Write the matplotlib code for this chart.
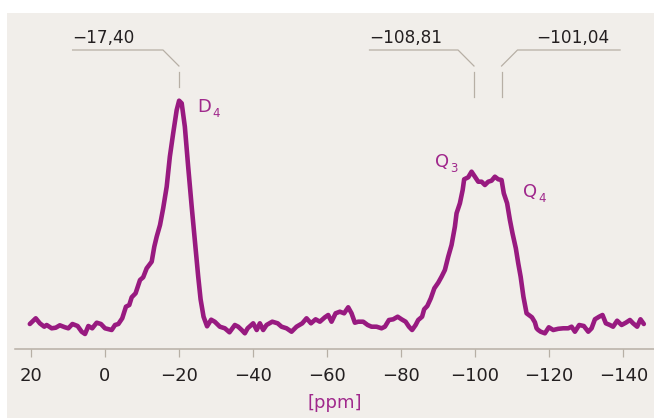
import matplotlib
matplotlib.use("Agg")
import matplotlib.pyplot as plt
from matplotlib.patches import Rectangle

# 29Si NMR spectrum (chemical shift in ppm, intensity in arbitrary units)
shift_ppm = [
    20.2, 18.6, 17.5, 16.3, 15.65, 14.3, 13.2, 12.1, 10.7, 9.8, 8.7, 7.3, 6.2, 5.3,
    4.4, 3.35, 2.15, 1.0, -0.1, -1.9, -2.8, -3.7, -4.75, -5.75, -6.65, -7.3, -8.35,
    -9.55, -10.4, -11.35, -12.7, -13.4, -14.05, -14.95, -15.8, -16.75, -17.6, -18.5,
    -19.45, -20.1, -20.8, -21.65, -22.55, -23.5, -24.35, -25.25, -25.9, -26.7,
    -27.65, -28.75, -29.75, -31.1, -32.45, -33.7, -35.15, -36.05, -37.0, -37.85,
    -38.6, -40.1, -41.05, -41.9, -42.8, -43.7, -45.25, -46.7, -47.75, -49.1, -50.45,
    -51.8, -53.35, -54.5, -55.7, -56.95, -58.1, -59.45, -60.35, -61.25, -62.35,
    -63.5, -64.65, -65.75, -66.65, -67.55, -68.45, -69.8, -71.0, -72.05, -73.4,
    -74.75, -75.65, -76.75, -77.9, -79.1, -80.15, -81.25, -82.15, -83.0, -83.95,
    -84.65, -85.7, -86.25, -87.1, -88.05, -89.0, -90.05, -90.95, -91.85, -92.75,
    -93.65, -94.55, -95.0, -95.9, -96.65, -97.05, -98.15, -99.05, -99.95, -100.85,
    -101.75, -102.65, -103.55, -104.45, -105.35, -106.25, -107.15, -107.75, -108.65,
    -109.4, -110.1, -111.0, -111.65, -112.3, -113.05, -113.9, -115.35, -116.15,
    -116.6, -117.05, -117.7, -118.85, -119.9, -121.1, -122.45, -123.8, -125.15,
    -126.05, -126.95, -128.1, -129.35, -130.55, -131.45, -132.35, -133.5, -134.4,
    -135.3, -136.4, -137.25, -138.35, -139.55, -140.7, -141.8, -142.65, -143.75,
    -144.65, -145.55,
]
intensity = [
    25.3, 31.0, 26.0, 22.6, 24.3, 21.0, 21.6, 24.0, 22.0, 21.0, 25.3, 23.3, 17.6, 15.3,
    23.3, 21.0, 26.6, 25.3, 21.0, 19.3, 24.3, 25.3, 31.0, 42.6, 44.3, 52.0, 56.0,
    69.3, 72.0, 81.0, 87.6, 102.6, 112.6, 124.3, 141.0, 162.6, 192.6, 216.0,
    239.3, 248.6, 246.0, 222.6, 182.6, 142.6, 109.3, 73.0, 50.0, 32.6,
    23.0, 29.6, 27.5, 22.6, 21.0, 17.0, 24.3, 22.6, 19.3, 16.0,
    21.0, 26.0, 19.3, 26.0, 19.3, 24.3, 27.6, 26.0, 22.6, 21.0, 17.6,
    22.6, 26.0, 31.0, 26.0, 30.0, 27.6, 32.0, 34.3, 27.6, 36.0,
    37.6, 36.0, 42.0, 36.0, 26.6, 27.6, 27.6, 24.3, 22.6, 22.6,
    21.0, 22.6, 29.3, 30.0, 32.6, 30.0, 27.6, 22.6, 19.3, 24.3,
    29.3, 32.6, 40.0, 43.3, 51.0, 61.0, 66.6, 72.6, 79.3, 92.6,
    104.3, 122.6, 136.0, 146.0, 159.3, 170.0, 172.0, 177.6, 172.6, 167.6,
    167.6, 164.3, 167.6, 168.6, 172.6, 170.0, 169.3, 156.0, 146.0,
    129.3, 116.0, 101.0, 86.0, 72.6, 52.6, 36.0, 32.0, 27.0,
    21.0, 19.3, 17.6, 16.0, 22.0, 19.3, 20.5, 21.0, 21.0,
    22.6, 17.6, 24.3, 23.3, 17.6, 21.0, 30.0, 32.6, 34.3,
    26.0, 24.3, 22.6, 28.6, 24.3, 26.6, 29.3, 26.0, 22.6,
    30.0, 25.3,
]

tick_values = [20, 0, -20, -40, -60, -80, -100, -120, -140]

# Peak shift annotations
mark_ppm = [-20.05, -99.7, -107.15]
mark_text = ["\u221217,40", "\u2212108,81", "\u2212101,04"]

# Site labels: (main letter, subscript, ppm, intensity)
site_main = ["D", "Q", "Q"]
site_sub = ["4", "3", "4"]
site_ppm = [-24.9, -89.15, -112.98]
site_int = [237.3, 182.0, 152.0]

LINE = "#981a80"
LABEL = "#a0288c"
GREY = "#b7afa5"
INK = "#231f20"
PANEL = "#f1eeea"

W, H = 654, 418
fig = plt.figure(figsize=(W / 100, H / 100), dpi=100)
fig.patch.set_facecolor("white")
fig.patches.append(Rectangle((7 / W, 0), 1, (H - 13) / H, transform=fig.transFigure,
                             facecolor=PANEL, edgecolor="none", zorder=-5))

ax = fig.add_axes([15 / W, (H - 349.3) / H, (W - 15) / W, (349.3 - 13) / H])
ax.set_facecolor("none")
ax.plot(shift_ppm, intensity, color=LINE, lw=3.3, solid_joinstyle="round",
        solid_capstyle="round", zorder=3)

ax.set_xlim(24.2, -148.3)
ax.set_ylim(0, 336.3)
for side in ("top", "left", "right"):
    ax.spines[side].set_visible(False)
ax.spines["bottom"].set_color(GREY)
ax.spines["bottom"].set_linewidth(1.1)
ax.set_yticks([])
ax.set_xticks(tick_values)
ax.set_xticklabels([f"{v}".replace("-", "\u2212") for v in tick_values])
ax.tick_params(axis="x", direction="out", length=5.5, width=0.9, color=GREY,
               labelsize=13, labelcolor=INK, pad=7.5)
ax.set_xlabel("[ppm]", color=LABEL, fontsize=13, labelpad=6)

# Leader lines with shift values
under_y, diag_y, tick_top = 299.3, 283.3, 277.3
tick_bottom = [262.0, 252.3, 252.3]
diag_dx = 4.3
under_len = [24.4, 23.9, 27.7]
text_side = [1, 1, -1]
text_inset = [0.0, 0.0, 2.9]
for m, txt, s, ln, tb, ins in zip(mark_ppm, mark_text, text_side, under_len,
                                   tick_bottom, text_inset):
    x_knee = m + s * diag_dx
    x_end = x_knee + s * ln
    kw = dict(color=GREY, lw=0.9, clip_on=False, zorder=2)
    ax.plot([x_end, x_knee, m], [under_y, under_y, diag_y], **kw)
    ax.plot([m, m], [tick_top, tb], **kw)
    ax.text(x_end - s * ins, 311.3, txt, ha="left" if s > 0 else "right",
            va="center", fontsize=12.2, color=INK)

for main, sub, xp, yi in zip(site_main, site_sub, site_ppm, site_int):
    ax.text(xp, yi, main, fontsize=13, color=LABEL, ha="left", va="baseline")
    ax.text(xp - 4.05, yi - 4.7, sub, fontsize=8.5, color=LABEL, ha="left",
            va="baseline")

fig.savefig("out.png", dpi=100)
